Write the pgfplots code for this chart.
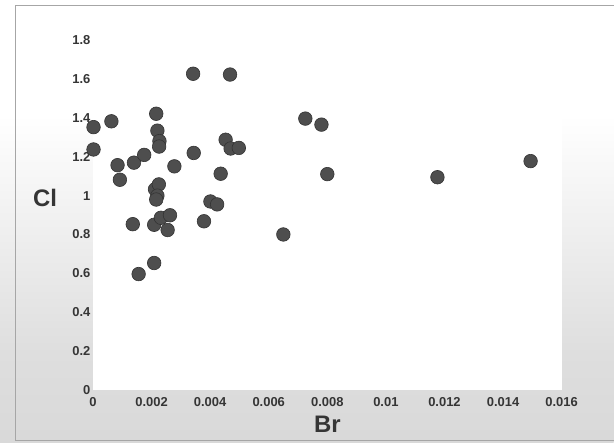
\documentclass[border=0pt]{standalone}
\usepackage{pgfplots}
\pgfplotsset{compat=1.18}
\usepackage{fontspec}
\setmainfont{Liberation Sans}
\definecolor{tickc}{HTML}{353535}
\definecolor{dotfill}{HTML}{4E4E4E}
\definecolor{dotedge}{HTML}{333333}
\pgfdeclareverticalshading{bgshade}{100bp}{color(0bp)=(black!20); color(35bp)=(black!13); color(62bp)=(white); color(100bp)=(white)}
\begin{document}
\begin{tikzpicture}[x=1bp,y=1bp]
% background of the whole picture (axis box lower-left at (0,0))
\shade[shading=bgshade] (-93,-53) rectangle (521,390);
\draw[black!35, line width=0.8bp] (-78,-51) -- (-78,385) -- (521,385);
\draw[black!35, line width=0.8bp] (-78,-51) -- (521,-51);
\begin{axis}[
  at={(0,0)}, anchor=south west,
  scale only axis,
  width=469bp, height=369bp,
  xmin=0, xmax=0.016, ymin=0, ymax=1.9,
  axis background/.style={fill=white},
  axis line style={draw=none},
  major tick length=0pt,
  xtick={0,0.002,0.004,0.006,0.008,0.01,0.012,0.014,0.016},
  xticklabels={0,0.002,0.004,0.006,0.008,0.01,0.012,0.014,0.016},
  ytick={0,0.2,0.4,0.6,0.8,1,1.2,1.4,1.6,1.8},
  yticklabels={0,0.2,0.4,0.6,0.8,1,1.2,1.4,1.6,1.8},
  scaled x ticks=false,
  tick label style={font=\fontsize{13}{14}\selectfont\bfseries, text=tickc},
  xticklabel style={yshift=-4bp},
  yticklabel style={xshift=1bp},
  xlabel={Br}, ylabel={Cl},
  label style={font=\fontsize{24}{25}\selectfont\bfseries, text=tickc},
  xlabel style={at={(axis description cs:0.5,0)}, anchor=center, yshift=-35bp},
  ylabel style={at={(axis description cs:0,0.5)}, rotate=-90, anchor=center, xshift=-48bp, yshift=7bp},
  clip=false,
]
\addplot[only marks, mark=*, mark size=6.8bp,
  mark options={fill=dotfill, draw=dotedge, line width=0.6bp}]
  table {
x y
0.00002 1.353
0.00002 1.238
0.00063 1.383
0.00084 1.157
0.00092 1.082
0.00140 1.170
0.00175 1.210
0.00136 0.853
0.00156 0.596
0.00209 0.653
0.00216 1.422
0.00220 1.335
0.00227 1.281
0.00226 1.253
0.00278 1.151
0.00212 1.033
0.00225 1.058
0.00220 1.000
0.00216 0.980
0.00209 0.850
0.00232 0.886
0.00263 0.899
0.00255 0.823
0.00342 1.628
0.00468 1.624
0.00344 1.220
0.00453 1.288
0.00470 1.243
0.00498 1.246
0.00436 1.113
0.00401 0.970
0.00424 0.955
0.00379 0.868
0.00650 0.800
0.00725 1.397
0.00780 1.366
0.00800 1.111
0.01176 1.095
0.01494 1.178
};
\end{axis}
\end{tikzpicture}
\end{document}
